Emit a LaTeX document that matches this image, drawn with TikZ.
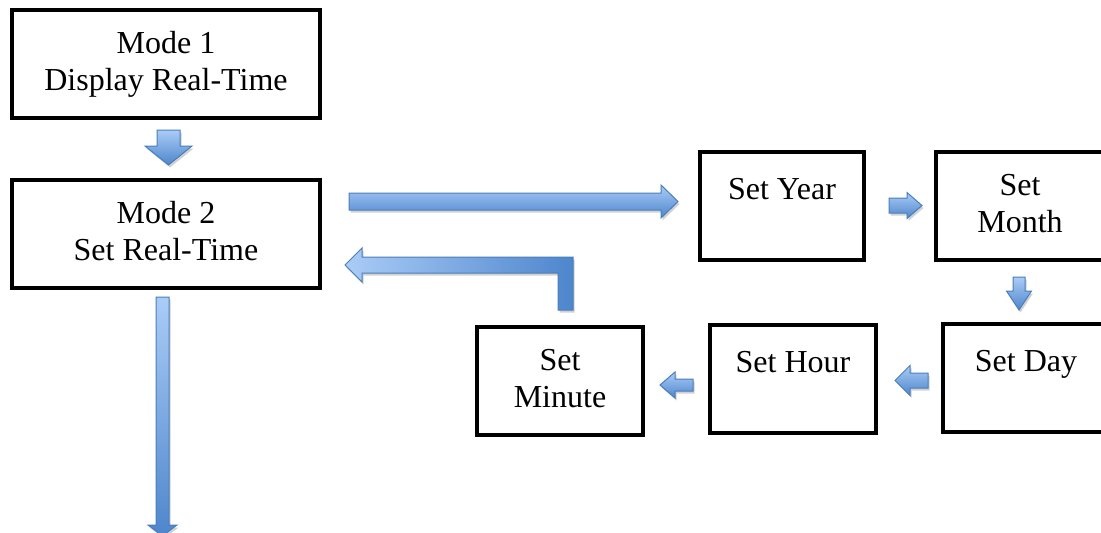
\documentclass[tikz,border=0pt]{standalone}
\usepackage{fontspec}
\setmainfont{Liberation Serif}
\usepackage{tikz}
\usetikzlibrary{calc,shadows}

\definecolor{arrowlight}{RGB}{170,204,247}
\definecolor{arrowdark}{RGB}{78,134,204}
\definecolor{arrowline}{RGB}{74,126,187}

\tikzset{
  stepbox/.style={draw=black, line width=4pt, fill=white, inner sep=0pt,
    minimum width=166pt, minimum height=108pt,
    font=\fontsize{32}{37}\selectfont},
  blockarrow/.style={draw=arrowline, line width=1pt, line join=miter,
    top color=arrowlight, bottom color=arrowdark,
    drop shadow={shadow xshift=1.5pt, shadow yshift=-2.5pt, opacity=.18, fill=black}}
}

% text hangs from the top edge of the box
\newcommand{\boxtext}[2][150pt]{\parbox[c][108pt][t]{#1}{\centering\rule{0pt}{43pt}#2}}
% single lines sit a little lower
\newcommand{\lowline}{\rule{0pt}{47pt}}
% [style]{from}{to}{shaft half width}{head half width}{head length}
\newcommand{\blockarrow}[6][]{%
  \draw[blockarrow,#1] ($(#2)!#4!90:(#3)$) -- ($(#3)!#6!(#2)!#4!-90:(#2)$)
    -- ($(#3)!#6!(#2)!#5!-90:(#2)$) -- (#3) -- ($(#3)!#6!(#2)!#5!90:(#2)$)
    -- ($(#3)!#6!(#2)!#4!90:(#2)$) -- ($(#2)!#4!-90:(#3)$) -- cycle;}

\begin{document}
\begin{tikzpicture}[x=1pt, y=-1pt]
	\useasboundingbox (0,0) rectangle (1101,533);
	
	% boxes
	\node[stepbox, minimum width=308pt] (mode1) at (166,64) {\boxtext[280pt]{Mode 1\\Display Real-Time}};
	\node[stepbox, minimum width=308pt] (mode2) at (166,234) {\boxtext[280pt]{Mode 2\\Set Real-Time}};
	\node[stepbox, minimum width=164pt] (year) at (782,206) {\boxtext{\lowline Set Year}};
	\node[stepbox, minimum width=168pt] (month) at (1020,206) {\boxtext{Set\\Month}};
	\node[stepbox] (day) at (1026,378) {\boxtext{\lowline Set Day}};
	\node[stepbox] (hour) at (793,379) {\boxtext{\lowline Set Hour}};
	\node[stepbox] (minute) at (560,381) {\boxtext{Set\\Minute}};
	
	% straight arrows
	\blockarrow{$(mode1.south)+(2.5,10)$}{$(mode2.north)+(2.5,-13)$}{11.5pt}{23.5pt}{19pt}
	\blockarrow{$(mode2.east)+(27,-32.5)$}{$(year.west)+(-20,-4.5)$}{8.5pt}{16.5pt}{17pt}
	\blockarrow{$(year.east)+(23,-0.5)$}{$(month.west)+(-12,-0.5)$}{7.5pt}{13pt}{15pt}
	\blockarrow{$(month.south)+(-1,15)$}{$(day.north)+(-7,-12)$}{6pt}{12.5pt}{19pt}
	\blockarrow{$(day.west)+(-13,2.5)$}{$(hour.east)+(17,1.5)$}{7.5pt}{15pt}{15pt}
	\blockarrow{$(hour.west)+(-15,6)$}{$(minute.east)+(15,4)$}{6pt}{13pt}{15pt}
	
	% way out of mode 2
	\coordinate (exit) at ($(mode2.south)+(-3.5,246)$);
	\blockarrow{$(mode2.south)+(-3.5,7)$}{exit}{6.5pt}{14.5pt}{11pt}
	
	% back from minute to mode 2
	\coordinate (bendfoot) at ($(minute.north)+(5.5,-15)$);
	\coordinate (bendtip) at ($(mode2.east)+(23,31)$);
	\draw[blockarrow, left color=arrowlight, right color=arrowdark]
		($(bendfoot)+(7.5,0)$) |- ($(bendtip)+(17,-8)$) -- ++(0,-9) -- (bendtip)
		-- ++(17,17) -- ++(0,-9) -| ($(bendfoot)+(-7.5,0)$) -- cycle;
\end{tikzpicture}
\end{document}
